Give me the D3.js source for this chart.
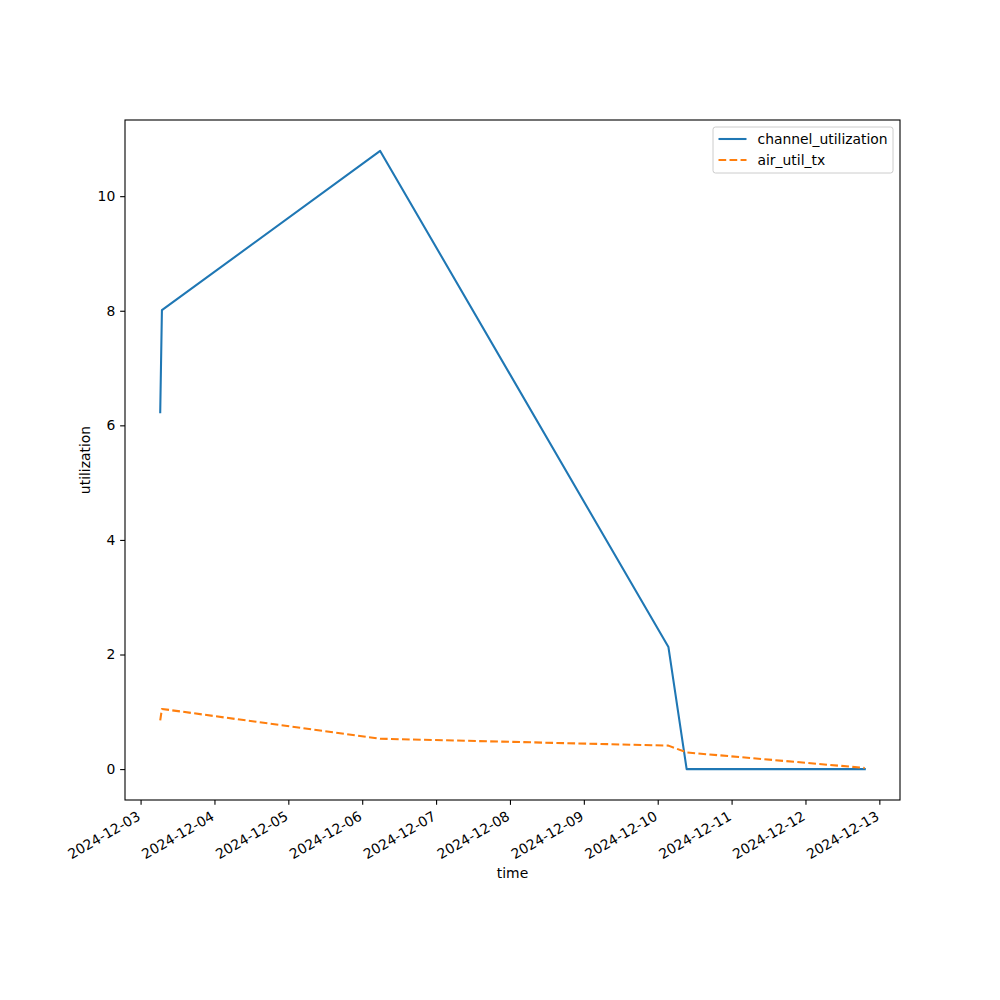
<!DOCTYPE html>
<html>
<head>
<meta charset="utf-8">
<script src="https://cdn.jsdelivr.net/npm/d3@7"></script>
<style>
  html, body { margin: 0; padding: 0; background: #fff; }
  svg { display: block; font-family: "DejaVu Sans", sans-serif; }
</style>
</head>
<body>
<svg id="chart" width="1000" height="1000"></svg>
<script>
// ---- data ----
const seriesNames = ["channel_utilization", "air_util_tx"];
const times = [
  "2024-12-03T06:23:00Z",
  "2024-12-03T06:56:00Z",
  "2024-12-06T05:50:00Z",
  "2024-12-10T03:29:00Z",
  "2024-12-10T09:24:00Z",
  "2024-12-12T19:16:00Z"
];
const channelUtilization = [6.23, 8.01, 10.79, 2.13, 0.0, 0.0];
const airUtilTx = [0.85, 1.05, 0.53, 0.41, 0.29, 0.02];
const yTicks = [0, 2, 4, 6, 8, 10];
const xTickLabels = ["2024-12-03","2024-12-04","2024-12-05","2024-12-06","2024-12-07",
  "2024-12-08","2024-12-09","2024-12-10","2024-12-11","2024-12-12","2024-12-13"];
const xLabel = "time";
const yLabel = "utilization";
const colors = ["#1f77b4", "#ff7f0e"];

// ---- layout ----
const L = 125, R = 900, T = 120, B = 800;
const FONT = "'DejaVu Sans', sans-serif";
const svg = d3.select("#chart");
const parse = s => new Date(s);
const tDates = times.map(parse);
const tickDates = xTickLabels.map(s => new Date(s + "T00:00:00Z"));

const tMin = d3.min(tDates).getTime(), tMax = d3.max(tDates).getTime();
const tPad = (tMax - tMin) * 0.05;
const x = d3.scaleUtc().domain([new Date(tMin - tPad), new Date(tMax + tPad)]).range([L, R]);

const allY = channelUtilization.concat(airUtilTx);
const yMin = d3.min(allY), yMax = d3.max(allY);
const yPad = (yMax - yMin) * 0.05;
const y = d3.scaleLinear().domain([yMin - yPad, yMax + yPad]).range([B, T]);

const fs = 13.9;

// lines
const series = [channelUtilization, airUtilTx];
const line = d3.line().x((d, i) => x(tDates[i])).y(d => y(d));
const g = svg.append("g");
series.forEach((vals, k) => {
  g.append("path")
    .attr("d", line(vals))
    .attr("fill", "none")
    .attr("stroke", colors[k])
    .attr("stroke-width", 2.08)
    .attr("stroke-linejoin", "round")
    .attr("stroke-linecap", k === 0 ? "square" : "butt")
    .attr("stroke-dasharray", k === 1 ? "7.7,3.33" : null);
});

// axes
const xAxis = d3.axisBottom(x).tickValues(tickDates).tickSize(4.86).tickPadding(3)
  .tickFormat((d, i) => xTickLabels[i]);
const gx = svg.append("g").attr("transform", `translate(0,${B})`).call(xAxis)
  .attr("font-family", FONT).attr("font-size", fs);
gx.select(".domain").remove();
gx.selectAll(".tick line").attr("stroke", "#000").attr("stroke-width", 1.1);
gx.selectAll(".tick text")
  .attr("font-size", fs)
  .attr("font-family", FONT)
  .attr("fill", "#000")
  .attr("text-anchor", "end")
  .attr("y", 0).attr("dy", "0.76em")
  .attr("transform", "translate(-5,10) rotate(-30)");

const yAxis = d3.axisLeft(y).tickValues(yTicks).tickSize(4.86).tickPadding(4.86)
  .tickFormat(d3.format("d"));
const gy = svg.append("g").attr("transform", `translate(${L},0)`).call(yAxis)
  .attr("font-family", FONT).attr("font-size", fs);
gy.select(".domain").remove();
gy.selectAll(".tick line").attr("stroke", "#000").attr("stroke-width", 1.1);
gy.selectAll(".tick text").attr("font-size", fs).attr("font-family", FONT).attr("fill", "#000");

// frame
svg.append("rect").attr("x", L).attr("y", T).attr("width", R - L).attr("height", B - T)
  .attr("fill", "none").attr("stroke", "#000").attr("stroke-width", 1.1);

// axis labels
svg.append("text").attr("x", (L + R) / 2).attr("y", 878).attr("text-anchor", "middle")
  .attr("font-size", fs).text(xLabel);
svg.append("text").attr("transform", `translate(90,${(T + B) / 2}) rotate(-90)`)
  .attr("text-anchor", "middle").attr("font-size", fs).text(yLabel);

// legend
const lg = svg.append("g");
lg.append("rect").attr("x", 713).attr("y", 127).attr("width", 180).attr("height", 46)
  .attr("rx", 2.5).attr("fill", "#fff").attr("fill-opacity", 0.8)
  .attr("stroke", "#cccccc").attr("stroke-width", 1);
seriesNames.forEach((name, k) => {
  const ly = 139 + k * 21;
  lg.append("line").attr("x1", 718.5).attr("x2", 746.5).attr("y1", ly).attr("y2", ly)
    .attr("stroke", colors[k]).attr("stroke-width", 2.08)
    .attr("stroke-dasharray", k === 1 ? "7.7,3.33" : null);
  lg.append("text").attr("x", 757.5).attr("y", ly).attr("dy", "0.35em")
    .attr("font-size", fs).text(name);
});
</script>
</body>
</html>
